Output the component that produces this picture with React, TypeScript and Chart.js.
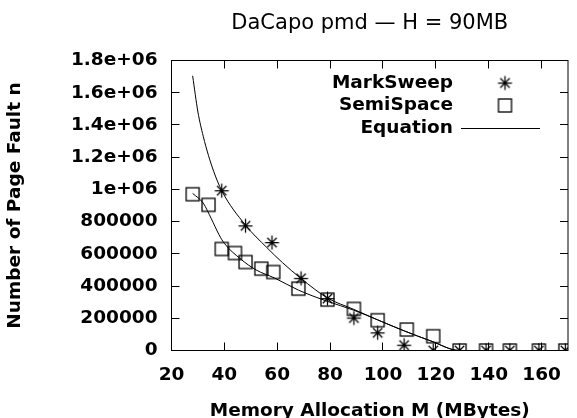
import { useEffect, useRef } from 'react';
import { Chart, registerables } from 'chart.js';

Chart.register(...registerables);

// MarkSweep measurements (asterisks)
const memoryMarkSweep = [39, 48, 58, 69, 79, 89, 98, 108, 119, 129, 139, 148, 159, 169];
const faultsMarkSweep = [992000, 774000, 670000, 448000, 322000, 202000, 110000, 33000, 0, 0, 0, 0, 0, 0];

// SemiSpace measurements (boxes)
const memorySemiSpace = [28, 34, 39, 44, 48, 54, 58.5, 68, 79, 89, 98, 109, 119, 129, 139, 148, 159, 169];
const faultsSemiSpace = [970000, 904000, 630000, 605000, 549000, 508000, 487000, 384000, 316000, 258000, 188000, 130000, 88500, 0, 0, 0, 0, 0];

// Equation curves
const eqMarkSweepX = [28, 30, 32, 34, 36, 39, 48, 56, 62, 69, 79, 89, 98, 108, 118, 129, 170];
const eqMarkSweepY = [1705000, 1480000, 1330000, 1210000, 1110000, 992000, 778000, 640000, 545000, 447000, 326000, 255000, 190000, 122000, 60000, 0, 0];
const eqSemiSpaceX = [28, 32, 35, 38, 40, 46, 52, 59, 68, 79, 89, 98, 108, 118, 129, 170];
const eqSemiSpaceY = [975000, 915000, 820000, 718000, 665000, 570000, 500000, 450000, 375000, 305000, 250000, 190000, 122000, 60000, 0, 0];

const xTickValues = [20, 40, 60, 80, 100, 120, 140, 160];
const yTickValues = [0, 200000, 400000, 600000, 800000, 1000000, 1200000, 1400000, 1600000, 1800000];
const yTickLabels = ['0', '200000', '400000', '600000', '800000', '1e+06', '1.2e+06', '1.4e+06', '1.6e+06', '1.8e+06'];
const legendLabels = ['MarkSweep', 'SemiSpace', 'Equation'];

const titleText = 'DaCapo pmd \u2014 H = 90MB';
const xTitle = 'Memory Allocation M (MBytes)';
const yTitle = 'Number of Page Fault n';

const FONT = 'DejaVu Sans';

function makeAsterisk(): HTMLCanvasElement {
  const c = document.createElement('canvas');
  c.width = 17; c.height = 17;
  const g = c.getContext('2d')!;
  g.strokeStyle = '#000';
  g.lineWidth = 1.25;
  const cx = 8.5, cy = 8.5, r = 7;
  g.beginPath();
  for (let i = 0; i < 4; i++) {
    const a = (i * Math.PI) / 4;
    const rr = i % 2 === 0 ? r : r * 0.95;
    g.moveTo(cx - rr * Math.cos(a), cy - rr * Math.sin(a));
    g.lineTo(cx + rr * Math.cos(a), cy + rr * Math.sin(a));
  }
  g.stroke();
  g.fillStyle = '#000';
  g.beginPath();
  g.arc(cx, cy, 1.7, 0, Math.PI * 2);
  g.fill();
  return c;
}

function makeBox(): HTMLCanvasElement {
  const c = document.createElement('canvas');
  c.width = 17; c.height = 17;
  const g = c.getContext('2d')!;
  g.strokeStyle = '#000';
  g.lineWidth = 1.3;
  g.strokeRect(2, 2, 13, 13);
  return c;
}

export default function App() {
  const ref = useRef<HTMLCanvasElement | null>(null);

  useEffect(() => {
    document.body.style.margin = '0';
    const canvas = ref.current;
    if (!canvas) return;
    const asterisk = makeAsterisk();
    const box = makeBox();

    const framePlugin = {
      id: 'gnuframe',
      afterDraw(chart: any) {
        const { ctx, chartArea: a, scales } = chart;
        ctx.save();
        ctx.strokeStyle = '#000';
        ctx.lineWidth = 1;
        ctx.strokeRect(a.left, a.top, a.right - a.left, a.bottom - a.top);
        const T = 8;
        ctx.beginPath();
        for (const t of scales.x.ticks) {
          const px = Math.floor(scales.x.getPixelForValue(t.value)) + 0.5;
          ctx.moveTo(px, a.bottom); ctx.lineTo(px, a.bottom - T);
          ctx.moveTo(px, a.top); ctx.lineTo(px, a.top + T);
        }
        for (const t of scales.y.ticks) {
          const py = Math.floor(scales.y.getPixelForValue(t.value)) + 0.5;
          ctx.moveTo(a.left, py); ctx.lineTo(a.left + T, py);
          ctx.moveTo(a.right, py); ctx.lineTo(a.right - T, py);
        }
        ctx.stroke();

        // legend
        const textRight = 453;
        const symX = 505;
        const rows = [83, 105.5, 128];
        ctx.fillStyle = '#000';
        ctx.font = `bold 18.5px "${FONT}"`;
        ctx.textAlign = 'right';
        ctx.textBaseline = 'middle';
        legendLabels.forEach((lab, i) => ctx.fillText(lab, textRight, rows[i]));
        ctx.drawImage(asterisk, symX - asterisk.width / 2, rows[0] - asterisk.height / 2);
        ctx.drawImage(box, symX - box.width / 2, rows[1] - box.height / 2);
        ctx.beginPath();
        ctx.moveTo(461, Math.floor(rows[2]) + 0.5);
        ctx.lineTo(540, Math.floor(rows[2]) + 0.5);
        ctx.stroke();
        ctx.restore();
      },
    };

    const toPts = (xs: number[], ys: number[]) => xs.map((x, i) => ({ x, y: ys[i] }));

    const chart = new Chart(canvas, {
      type: 'scatter',
      data: {
        datasets: [
          {
            label: 'MarkSweep',
            data: toPts(memoryMarkSweep, faultsMarkSweep),
            pointStyle: asterisk as any,
            pointRadius: 8,
            showLine: false,
          },
          {
            label: 'SemiSpace',
            data: toPts(memorySemiSpace, faultsSemiSpace),
            pointStyle: box as any,
            pointRadius: 8,
            showLine: false,
          },
          {
            label: 'Equation',
            data: toPts(eqMarkSweepX, eqMarkSweepY),
            showLine: true,
            borderColor: '#000',
            borderWidth: 1,
            pointRadius: 0,
            cubicInterpolationMode: 'monotone',
          } as any,
          {
            label: 'Equation',
            data: toPts(eqSemiSpaceX, eqSemiSpaceY),
            showLine: true,
            borderColor: '#000',
            borderWidth: 1,
            pointRadius: 0,
            cubicInterpolationMode: 'monotone',
          } as any,
        ],
      },
      options: {
        responsive: false,
        animation: false,
        devicePixelRatio: 1,
        events: [],
        layout: { padding: { left: 0, right: 5.5, top: 0, bottom: 0 } },
        plugins: {
          legend: { display: false },
          tooltip: { enabled: false },
          title: {
            display: true,
            text: titleText,
            fullSize: false,
            color: '#000',
            font: { family: FONT, size: 21, weight: 'normal', lineHeight: 1.2 },
            padding: { top: 10.9, bottom: 24.4 },
          },
        },
        scales: {
          x: {
            type: 'linear',
            min: 20,
            max: 170,
            grid: { display: false, drawTicks: false },
            border: { display: false },
            afterBuildTicks: (s: any) => { s.ticks = xTickValues.map((v) => ({ value: v })); },
            afterFit: (s: any) => { s.height = 67.5; },
            ticks: {
              autoSkip: false,
              maxRotation: 0,
              padding: 14,
              color: '#000',
              font: { family: FONT, size: 18.5, weight: 'bold', lineHeight: 1.2 },
              callback: (v: any) => String(v),
            },
            title: {
              display: true,
              text: xTitle,
              color: '#000',
              font: { family: FONT, size: 18.5, weight: 'bold', lineHeight: 1.2 },
              padding: { top: 0, bottom: -4 },
            },
          },
          y: {
            type: 'linear',
            min: 0,
            max: 1800000,
            grid: { display: false, drawTicks: false },
            border: { display: false },
            afterBuildTicks: (s: any) => { s.ticks = yTickValues.map((v) => ({ value: v })); },
            afterFit: (s: any) => { s.width = 171.5; },
            ticks: {
              autoSkip: false,
              padding: 14,
              color: '#000',
              font: { family: FONT, size: 18.5, weight: 'bold', lineHeight: 1.2 },
              callback: (v: any) => yTickLabels[yTickValues.indexOf(Number(v))] ?? '',
            },
            title: {
              display: true,
              text: yTitle,
              color: '#000',
              font: { family: FONT, size: 18.5, weight: 'bold', lineHeight: 1.2 },
              padding: { top: 4.4, bottom: 0 },
            },
          },
        },
      },
      plugins: [framePlugin],
    });

    return () => chart.destroy();
  }, []);

  return (
    <div style={{ position: 'fixed', left: 0, top: 0, width: 577, height: 418, background: '#fff' }}>
      <canvas ref={ref} width={577} height={418} style={{ display: 'block', width: 577, height: 418 }} />
    </div>
  );
}
